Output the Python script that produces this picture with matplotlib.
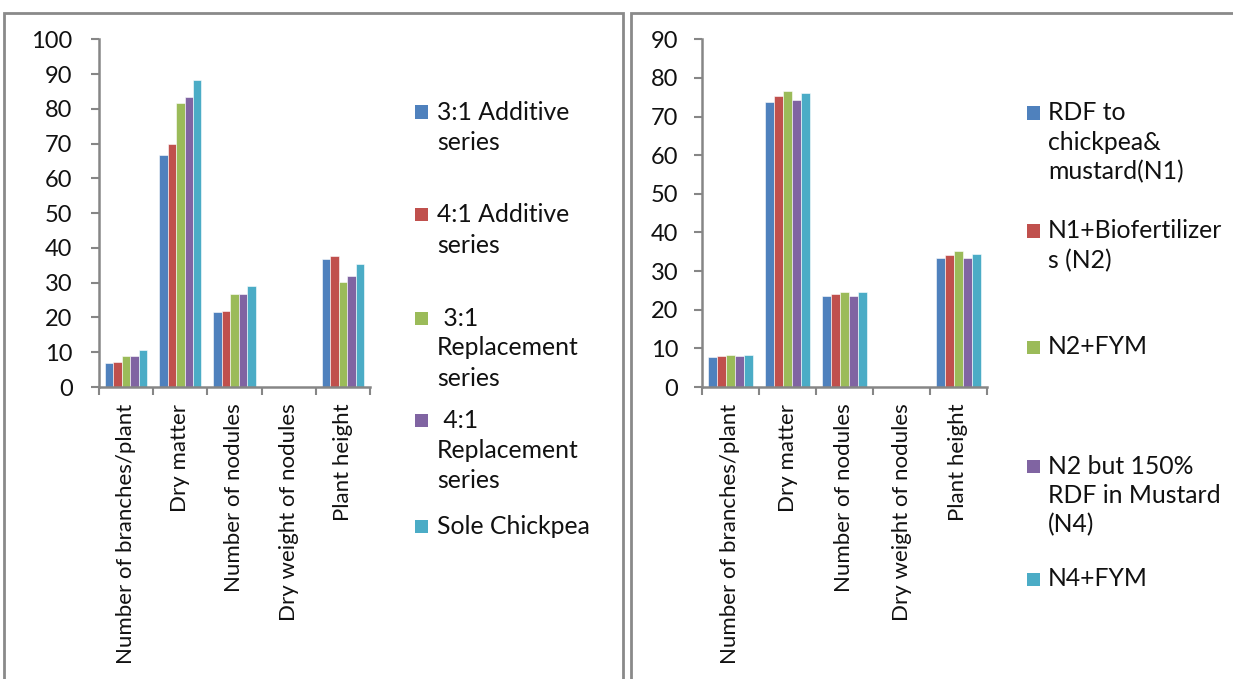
import matplotlib
matplotlib.use("Agg")
import matplotlib.pyplot as plt
from matplotlib.patches import Rectangle
import numpy as np

# ---- data -------------------------------------------------------------
categories = ["Number of branches/plant", "Dry matter", "Number of nodules",
              "Dry weight of nodules", "Plant height"]

left_series = ["3:1 Additive\nseries", "4:1 Additive\nseries",
               " 3:1\nReplacement\nseries", " 4:1\nReplacement\nseries",
               "Sole Chickpea"]
left_values = [
    [7.0, 66.7, 21.5, 0, 36.7],
    [7.3, 69.8, 21.9, 0, 37.7],
    [9.0, 81.6, 26.8, 0, 30.2],
    [9.0, 83.3, 26.8, 0, 31.9],
    [10.6, 88.3, 29.0, 0, 35.4],
]
left_yticks = [0, 10, 20, 30, 40, 50, 60, 70, 80, 90, 100]

right_series = ["RDF to\nchickpea&\nmustard(N1)", "N1+Biofertilizer\ns (N2)",
                "N2+FYM", "N2 but 150%\nRDF in Mustard\n(N4)", "N4+FYM"]
right_values = [
    [7.8, 73.7, 23.5, 0, 33.3],
    [8.1, 75.4, 24.1, 0, 34.1],
    [8.4, 76.6, 24.7, 0, 35.2],
    [8.1, 74.2, 23.5, 0, 33.5],
    [8.4, 76.1, 24.5, 0, 34.5],
]
right_yticks = [0, 10, 20, 30, 40, 50, 60, 70, 80, 90]

colors = ["#4F81BD", "#C0504D", "#9BBB59", "#8064A2", "#4BACC6"]

# ---- figure -----------------------------------------------------------
W, H = 1233, 679
fig = plt.figure(figsize=(W / 100, H / 100), dpi=100)
fig.patch.set_facecolor("white")

FONT = "Lato"
AXIS_GRAY = "#868686"


def fx(px):
    return px / W


def fy(py):
    return 1 - py / H


# panel frames
for x0, x1 in [(4, 623), (631, 1240)]:
    fig.patches.append(Rectangle((fx(x0), fy(H + 10)), fx(x1 - x0), fy(12.5) - fy(H + 10),
                                 transform=fig.transFigure, fill=False,
                                 edgecolor="#8a8a8a", linewidth=2.0, zorder=0))


def bar_panel(ax_rect, values, yticks, ypad):
    ax = fig.add_axes(ax_rect)
    n = len(values)
    group_w = 0.78
    bw = group_w / n
    centers = np.arange(len(categories)) + 0.5
    for i, vals in enumerate(values):
        offs = -group_w / 2 + bw * (i + 0.5)
        ax.bar(centers + offs, vals, width=bw, color=colors[i],
               edgecolor="white", linewidth=0.4, zorder=2)
    ax.set_xlim(0, len(categories))
    ax.set_ylim(yticks[0], yticks[-1])
    ax.set_yticks(yticks)
    ax.set_yticklabels([str(t) for t in yticks], fontfamily=FONT, fontsize=17,
                       color="#111111")
    ax.set_xticks(np.arange(len(categories) + 1))
    ax.set_xticklabels([])
    ax.set_xticks(centers, minor=True)
    ax.set_xticklabels(categories, minor=True, rotation=90, fontfamily=FONT,
                       fontsize=16, va="top", ha="center", color="#111111")
    ax.tick_params(axis="x", which="minor", length=0, pad=12)
    ax.tick_params(axis="x", which="major", length=6, width=1.5, color=AXIS_GRAY,
                   direction="out")
    ax.tick_params(axis="y", length=6, width=1.5, color=AXIS_GRAY, pad=ypad)
    for s in ["top", "right"]:
        ax.spines[s].set_visible(False)
    for s in ["left", "bottom"]:
        ax.spines[s].set_color(AXIS_GRAY)
        ax.spines[s].set_linewidth(1.8)
    ax.set_facecolor("none")
    return ax


bar_panel([fx(99), fy(387), fx(370 - 99), fy(39.3) - fy(387)], left_values, left_yticks, 13)
bar_panel([fx(702), fy(387), fx(987 - 702), fy(39.3) - fy(387)], right_values, right_yticks, 11)


def legend(labels, sq_x, txt_x, first_y, pitch=30):
    for i, (lab, y0) in enumerate(zip(labels, first_y)):
        fig.patches.append(Rectangle((fx(sq_x), fy(y0 + 6.5)), fx(13), fy(0) - fy(13),
                                     transform=fig.transFigure, facecolor=colors[i],
                                     edgecolor="none"))
        for j, line in enumerate(lab.split("\n")):
            fig.text(fx(txt_x), fy(y0 + j * pitch), line, fontfamily=FONT, fontsize=17.8,
                     ha="left", va="center", color="#111111")


legend(left_series, 415, 437, [112, 215, 318, 420, 526])
legend(right_series, 1027, 1048, [113, 231, 347, 466, 579], pitch=29.5)

fig.savefig("out.png", dpi=100, facecolor="white")
